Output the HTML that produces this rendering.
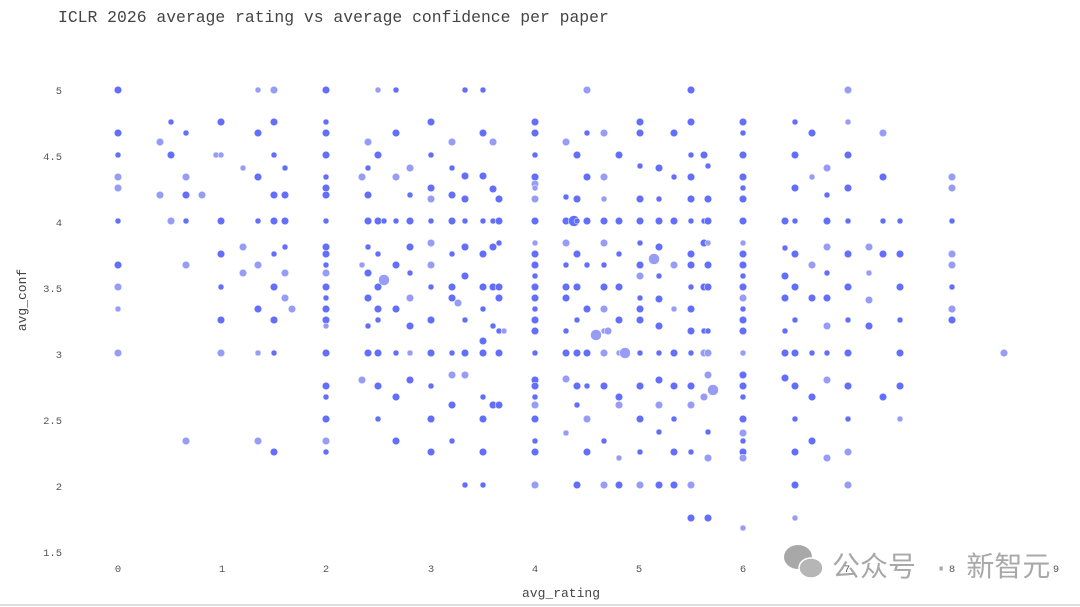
<!DOCTYPE html>
<html><head><meta charset="utf-8"><style>
html,body{margin:0;padding:0;background:#fff;width:1080px;height:607px;overflow:hidden}
svg text{font-family:"Liberation Mono",monospace}
</style></head><body>
<svg id="s" width="1080" height="607" xmlns="http://www.w3.org/2000/svg">
<text x="58" y="22" font-size="16.4" fill="#444">ICLR 2026 average rating vs average confidence per paper</text>
<g font-size="10.5" fill="#555" text-anchor="end">
<text x="62" y="94">5</text><text x="62" y="160">4.5</text><text x="62" y="226">4</text><text x="62" y="292">3.5</text><text x="62" y="358">3</text><text x="62" y="424">2.5</text><text x="62" y="490">2</text><text x="62" y="556">1.5</text>
</g>
<g font-size="10.5" fill="#555" text-anchor="middle">
<text x="118" y="572">0</text><text x="222" y="572">1</text><text x="326" y="572">2</text><text x="431" y="572">3</text><text x="535" y="572">4</text><text x="639" y="572">5</text><text x="743" y="572">6</text><text x="847" y="572">7</text><text x="952" y="572">8</text><text x="1056" y="572">9</text>
</g>
<text x="561" y="597" font-size="13" fill="#444" text-anchor="middle">avg_rating</text>
<text transform="translate(26,300) rotate(-90)" font-size="13" fill="#444" text-anchor="middle">avg_conf</text>
<line x1="0" y1="605" x2="1080" y2="605" stroke="#ddd" stroke-width="2"/>
<g id="pts"></g>
<g opacity="0.85">
<ellipse cx="798" cy="557" rx="14" ry="12" fill="#999"/><ellipse cx="811" cy="568" rx="12" ry="10" fill="#aaa" stroke="#fff" stroke-width="1.5"/>
<text x="832" y="576" font-size="28" font-family="'Noto Sans CJK SC',sans-serif" fill="#999">公众号 · 新智元</text>
</g>
</svg>
<script>
var D={
118:"90,133,155,177l,188l,221,265,287l,309l,353l",160:"142l,195l",171:"122,155,221l",186:"133,177l,195,221,265l,441l",202:"195l",216:"155l",
221:"122,155l,221,254,287,320,353l",243:"168l,247l,273l",258:"90l,133,177,221,265l,309,353l,441l",274:"90l,122,155,195,221,254,287,320,353,452",
285:"168,195,221,247,273l,298l",292:"309l",326:"90,122,133,155,177,188,195,221,247,254,265,273l,287,298,309,320,326l,353,386,397,419,441l,452",
362:"177l,265l,380l",368:"142l,168,195,221,247,273,298,326,353",378:"90l,155,221,254,287,309,320,353,386,419",384:"221,280lb",
396:"90,133,177l,221,265,309,353,397,441",410:"168l,195,221,247,273,298l,326,353l,380",431:"122,155,188,199l,221,243l,265l,287,320,353,386,419,452",
452:"142l,168,195,221,254,287,298,353,375l,405,441",458:"303l",465:"90,176,199,221,247,276,320,353,375l,485",
483:"90,133,176,221,254,287,309,341,353,397,419,452,485",493:"142l,189,221,247,287,326,405",499:"199,221,243,287,298,331,353,405",504:"331l",
535:"122,133,155,177,184l,188l,199l,221,243l,254,265,276,287,298,309,320,331,353,380,386,397,405l,419,441,452,485l",
566:"142l,197,221,243l,265,287,298,331,353,379l,433l",574:"221b",577:"155,199,221,254,287,320,353,386,405,485",
587:"90l,133,177,221,265,309,353,386,419l,452",596:"335lb",604:"133l,177l,199l,221,243l,265,287,309l,331l,353l,386,441,485l",608:"331l",
619:"155,221,254,287,320,353l,397,405l,458l,485",625:"353lb",640:"122,133,166,199,221,243,265,276l,298,309,320,353,386,419,452,485l",654:"259lb",
659:"168,199,221,247,276,299,326,353,380,405l,432,485",674:"133,177,221,265l,309l,353,386,419,452,485",
691:"90,122,155,177,199,221,254,265,287,309,331,353,386,405l,452,485l,518",704:"155,221,243,287,331,353l,397l",
708:"166,199,221,243l,265,287,331,353l,375l,432,458l,518",713:"390lb",
743:"122,133,155,177,188,199,221,243l,254,265,276,287,298l,309,320,331,353l,375,386,397,419,433l,441,452,458l,528l",
785:"221,248,276,298,331,353,378",795:"122,155,188,221,254,287,320,353,386,419,452,485,518l",812:"133,177l,265l,298,353,397,441",
827:"168l,195,221,247l,273,298,326l,353,380l,458l",848:"90l,122l,155,188,221,254,287,320,353,386,419,452l,485l",869:"247l,273l,300l,326",
883:"133l,177,221,254,397",900:"221,254,287,320,353,386,419l",952:"177l,188l,221,254l,265l,287,309l,320",1004:"353l"};
var g=document.getElementById('pts'),h='';
for(var x in D){D[x].split(',').forEach(function(t,i){var y=parseFloat(t),l=t.indexOf('l')>=0,b=t.indexOf('b')>=0;
var r=b?5.5:((i*7+ +x)%3==0?3:3.8);
h+='<circle cx="'+x+'" cy="'+y+'" r="'+r+'" fill="'+(l?'#979df6':'#636efa')+'" stroke="#fff" stroke-width="0.5"/>';});}
g.innerHTML=h;
</script>
</body></html>
